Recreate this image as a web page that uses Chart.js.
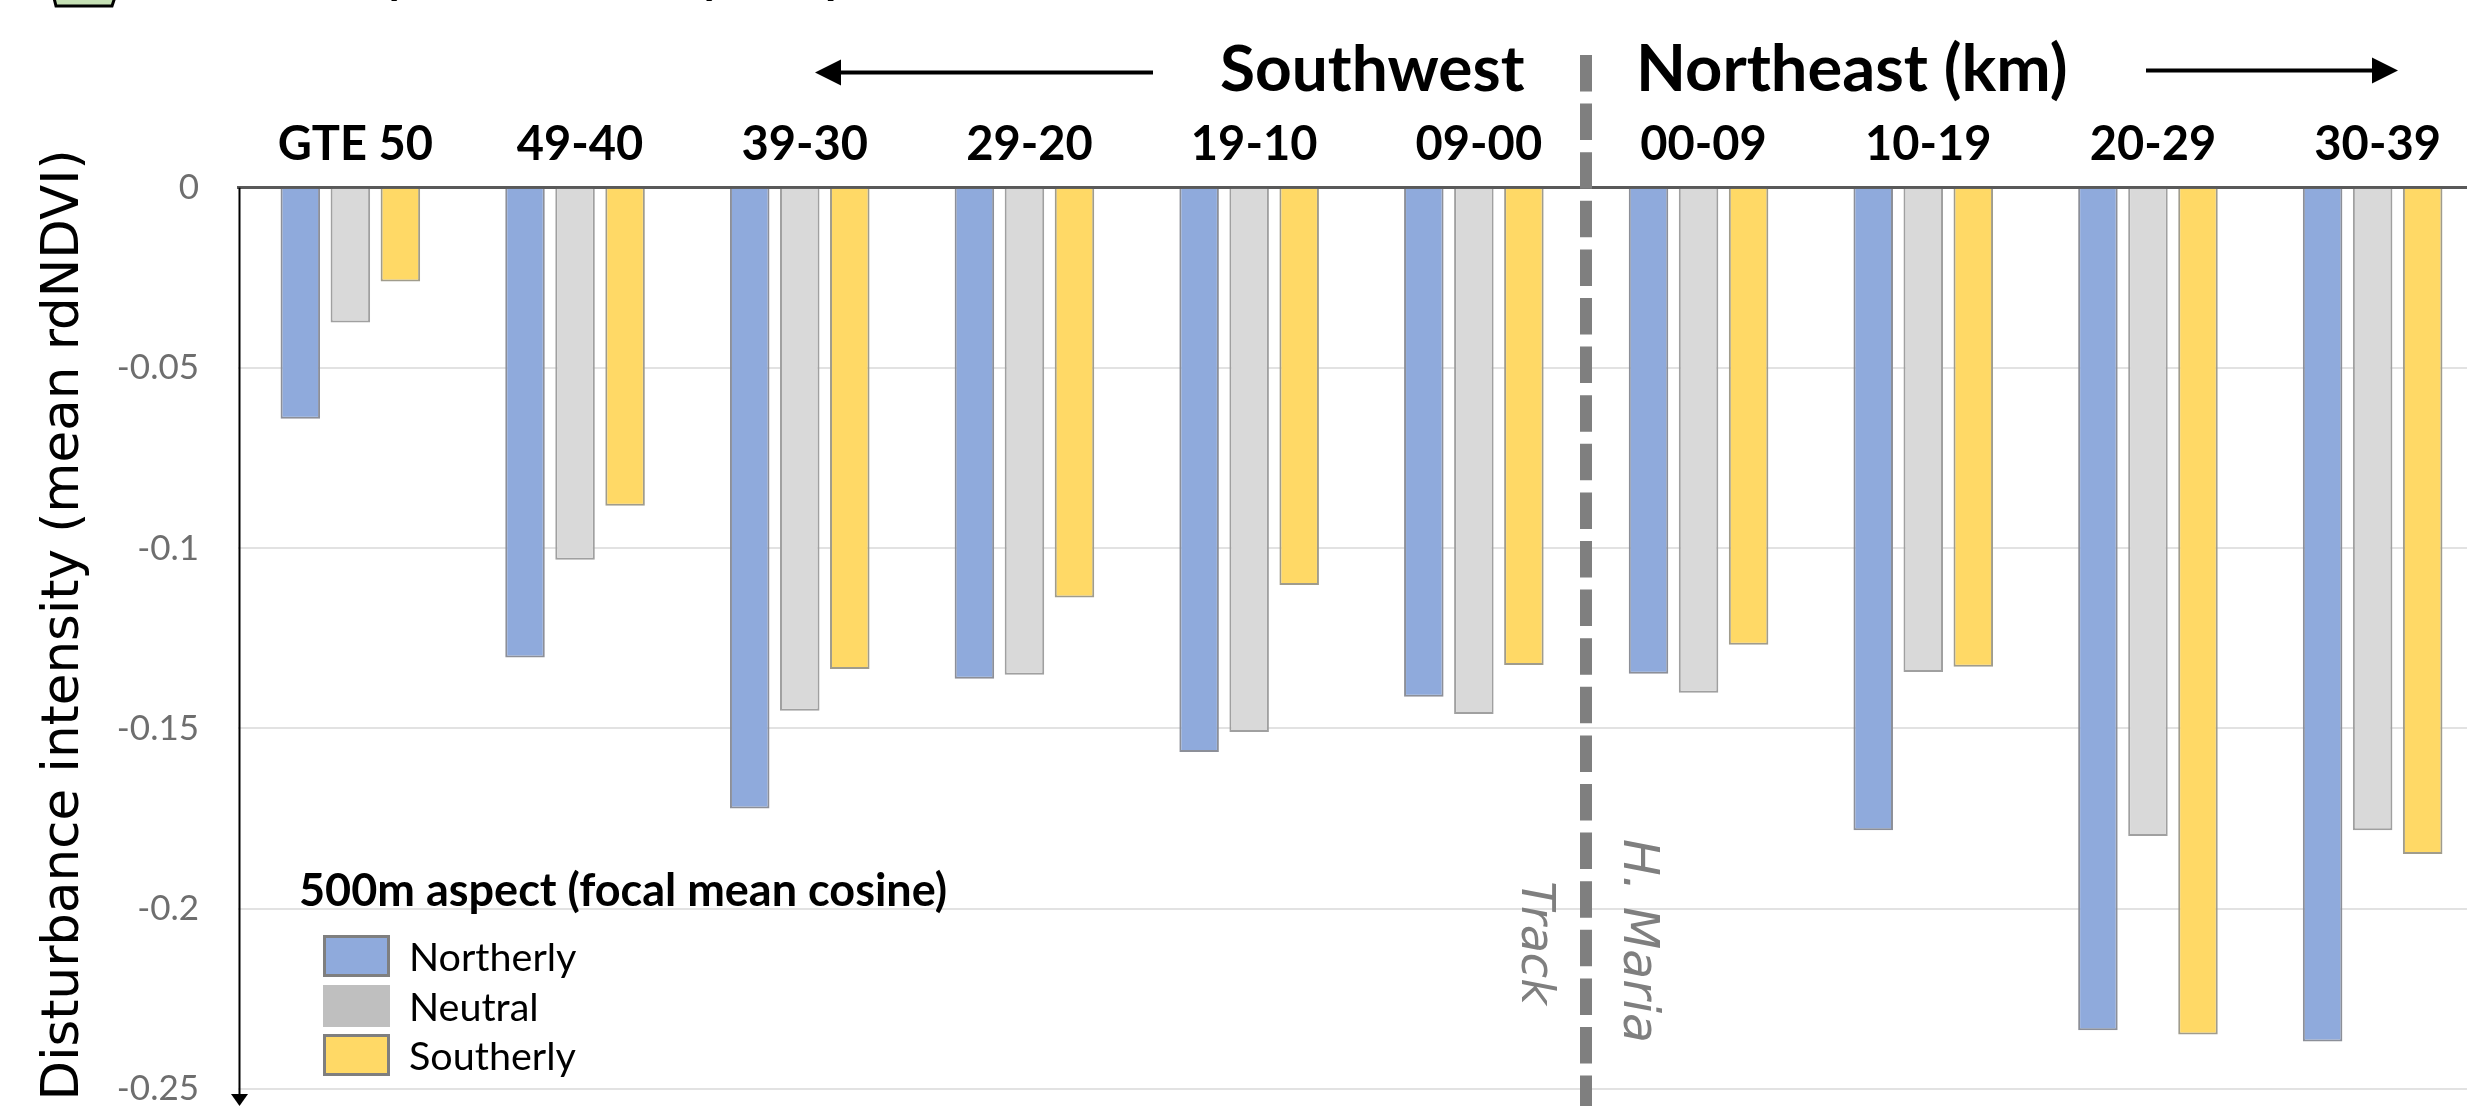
<!DOCTYPE html>
<html>
<head>
<meta charset="utf-8">
<title>Disturbance intensity by aspect</title>
<script src="https://cdn.jsdelivr.net/npm/chart.js@4/dist/chart.umd.min.js"></script>
<style>
  html, body { margin: 0; padding: 0; background: #fff; overflow: hidden; }
  canvas { display: block; }
</style>
</head>
<body>
<canvas id="chart" width="2485" height="1106" style="width:2485px;height:1106px"></canvas>
<script>
// Distance bands along the track, the right end runs off the picture
const bands = ['GTE 50', '49-40', '39-30', '29-20', '19-10', '09-00', '00-09', '10-19', '20-29', '30-39'];

const northerly = [-0.0641, -0.1303, -0.1722, -0.1362, -0.1565, -0.1412, -0.1348, -0.1782, -0.2337, -0.2368];
const neutral = [-0.0374, -0.1032, -0.1451, -0.1351, -0.1510, -0.1460, -0.1401, -0.1343, -0.1798, -0.1782];
const southerly = [-0.0260, -0.0882, -0.1335, -0.1137, -0.1102, -0.1324, -0.1268, -0.1329, -0.2349, -0.1848];

const seriesNames = ['Northerly', 'Neutral', 'Southerly'];
const seriesFill = ['#8faadc', '#d9d9d9', '#ffd966'];
const seriesEdge = ['#8c8f98', '#a0a0a0', '#a09c8c'];

const legendTitle = '500m aspect (focal mean cosine)';
const yTitle = 'Disturbance intensity (mean rdNDVI)';

function arrow(ctx, fromX, tipX, y) {
  const dir = tipX > fromX ? 1 : -1;
  ctx.strokeStyle = '#000';
  ctx.fillStyle = '#000';
  ctx.lineWidth = 4;
  ctx.beginPath();
  ctx.moveTo(fromX, y);
  ctx.lineTo(tipX - dir * 20, y);
  ctx.stroke();
  ctx.beginPath();
  ctx.moveTo(tipX, y);
  ctx.lineTo(tipX - dir * 26, y - 13);
  ctx.lineTo(tipX - dir * 26, y + 13);
  ctx.closePath();
  ctx.fill();
}

function sideText(ctx, text, x, y, font, color, angle) {
  ctx.save();
  ctx.translate(x, y);
  ctx.rotate(angle);
  ctx.font = font;
  ctx.fillStyle = color;
  ctx.textAlign = 'center';
  ctx.textBaseline = 'alphabetic';
  ctx.fillText(text, 0, 0);
  ctx.restore();
}

// Everything that sits on the slide around the chart
const annotations = {
  id: 'annotations',
  beforeDatasetsDraw(chart) {
    const ctx = chart.ctx;
    // hurricane track
    ctx.save();
    ctx.strokeStyle = '#7f7f7f';
    ctx.lineWidth = 12;
    ctx.setLineDash([36.5, 12.1]);
    ctx.beginPath();
    ctx.moveTo(1586, 55);
    ctx.lineTo(1586, 1106);
    ctx.stroke();
    ctx.restore();
  },
  afterDraw(chart) {
    const ctx = chart.ctx;
    ctx.save();

    // cut off heading above the chart
    ctx.fillStyle = '#c5e0b4';
    ctx.strokeStyle = '#000';
    ctx.lineWidth = 3;
    ctx.beginPath();
    ctx.moveTo(53, -6);
    ctx.lineTo(56, 6);
    ctx.lineTo(112, 6);
    ctx.lineTo(116, -6);
    ctx.fill();
    ctx.stroke();
    ctx.fillStyle = '#000';
    ctx.font = 'bold 46px Lato';
    ctx.textAlign = 'left';
    ctx.textBaseline = 'alphabetic';
    ctx.fillText('y', 386, -7);
    ctx.fillText('y', 701, -7);
    ctx.fillText('p', 825, -7);

    // direction headings
    ctx.font = 'bold 64px Lato';
    ctx.fillText('Southwest', 1220, 91);
    ctx.font = 'bold 65px Lato';
    ctx.fillText('Northeast (km)', 1636, 91);
    arrow(ctx, 1153, 815, 72.5);
    arrow(ctx, 2146, 2398, 70.5);

    // y axis with its arrow
    const yAxis = chart.scales.y;
    ctx.strokeStyle = '#000';
    ctx.lineWidth = 2;
    ctx.beginPath();
    ctx.moveTo(239.5, yAxis.top);
    ctx.lineTo(239.5, 1098);
    ctx.stroke();
    ctx.beginPath();
    ctx.moveTo(239.5, 1106);
    ctx.lineTo(231, 1094);
    ctx.lineTo(248, 1094);
    ctx.closePath();
    ctx.fill();

    sideText(ctx, yTitle, 78, 625, '51.5px "DejaVu Sans"', '#000', -Math.PI / 2);
    sideText(ctx, 'H. Maria', 1624, 941, 'italic 49px "DejaVu Sans"', '#7f7f7f', Math.PI / 2);
    sideText(ctx, 'Track', 1522, 943, 'italic 46px "DejaVu Sans"', '#7f7f7f', Math.PI / 2);

    // legend
    ctx.fillStyle = '#000';
    ctx.font = 'bold 45px Lato';
    ctx.fillText(legendTitle, 299, 906);
    const swatchTops = [935, 985, 1034];
    seriesNames.forEach((name, i) => {
      ctx.fillStyle = i === 1 ? '#bfbfbf' : seriesFill[i];
      ctx.fillRect(323, swatchTops[i], 67, 42);
      if (i !== 1) {
        ctx.strokeStyle = '#7f7f7f';
        ctx.lineWidth = 3;
        ctx.strokeRect(324.5, swatchTops[i] + 1.5, 64, 39);
      }
      ctx.fillStyle = '#000';
      ctx.font = '39.5px Lato';
      ctx.textBaseline = 'middle';
      ctx.fillText(name, 409, swatchTops[i] + 23);
      ctx.textBaseline = 'alphabetic';
    });
    ctx.restore();
  }
};

const chart = new Chart(document.getElementById('chart').getContext('2d'), {
  type: 'bar',
  data: {
    labels: bands,
    datasets: [northerly, neutral, southerly].map((values, i) => ({
      label: seriesNames[i],
      data: values,
      backgroundColor: seriesFill[i],
      borderColor: seriesEdge[i],
      borderWidth: 2,
      barPercentage: 0.79,
      categoryPercentage: 0.668
    }))
  },
  options: {
    responsive: false,
    animation: false,
    layout: { padding: { bottom: 17 } },
    plugins: { legend: { display: false }, tooltip: { enabled: false } },
    scales: {
      x: {
        position: 'top',
        z: 1,
        afterFit(scale) {
          scale.height = 187.7;
          scale.paddingLeft = scale.paddingRight = scale.paddingTop = scale.paddingBottom = 0;
        },
        grid: { display: false },
        border: { color: '#595959', width: 3 },
        ticks: {
          color: '#000',
          font: { family: 'Lato', size: 47, weight: 'bold' },
          maxRotation: 0,
          autoSkip: false,
          labelOffset: 5,
          padding: 7
        }
      },
      y: {
        min: -0.25,
        max: 0,
        afterFit(scale) {
          scale.width = 238;
          scale.paddingTop = scale.paddingBottom = 0;
        },
        grid: { color: '#e2e2e2', lineWidth: 2, drawTicks: false },
        border: { display: false },
        ticks: {
          stepSize: 0.05,
          color: '#6e6e6e',
          font: { family: 'Lato', size: 35 },
          padding: 39,
          callback: value => String(Number(value.toFixed(2)))
        }
      }
    }
  },
  plugins: [annotations]
});
</script>
</body>
</html>
